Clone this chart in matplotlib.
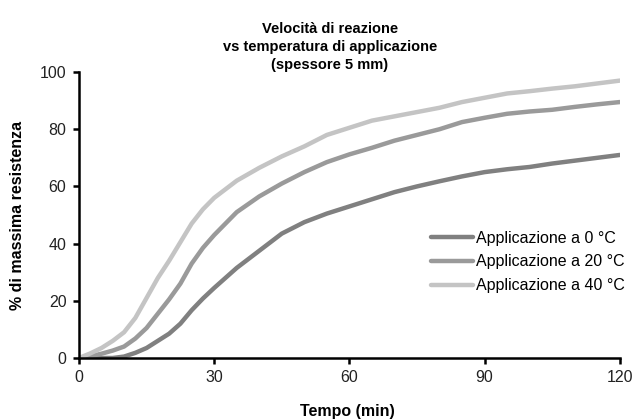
import matplotlib.pyplot as plt

plt.rcParams['font.family'] = ['Liberation Sans', 'DejaVu Sans']

tempo = [0, 2.5, 5, 7.5, 10, 12.5, 15, 17.5, 20, 22.5, 25, 27.5, 30, 35, 40, 45, 50, 55, 60,
         65, 70, 75, 80, 85, 90, 95, 100, 105, 110, 115, 120]

app_0 = [0, 0, 0, 0, 0.5, 1.8, 3.5, 6, 8.5, 12, 16.7, 20.8, 24.5, 31.5, 37.5, 43.5, 47.5, 50.5, 53,
         55.5, 58, 60, 61.8, 63.5, 65, 66, 66.8, 68, 69, 70, 71]
app_20 = [0, 0.6, 1.5, 2.6, 4, 6.8, 10.5, 15.5, 20.5, 26, 33, 38.5, 43, 51, 56.5, 61, 65, 68.5, 71.2,
          73.5, 76, 78, 80, 82.5, 84, 85.4, 86.2, 86.8, 87.8, 88.7, 89.5]
app_40 = [0, 1.6, 3.5, 6, 9, 14, 21, 28, 34, 40.5, 47, 52, 56, 62, 66.5, 70.5, 74, 78, 80.5,
          83, 84.5, 86, 87.5, 89.5, 91, 92.5, 93.3, 94.2, 95, 96, 97]

labels = ['Applicazione a 0 °C', 'Applicazione a 20 °C', 'Applicazione a 40 °C']
colors = ['#808080', '#9a9a9a', '#c4c4c4']

fig = plt.figure(figsize=(6.37, 4.19), dpi=100)
ax = fig.add_axes([0.124, 0.1456, 0.849, 0.6825])

for ys, lab, c in zip([app_0, app_20, app_40], labels, colors):
    ax.plot(tempo, ys, color=c, lw=3.2, label=lab, solid_capstyle='round',
            solid_joinstyle='round')

ax.set_xlim(0, 120)
ax.set_ylim(0, 100)
ax.set_xticks([0, 30, 60, 90, 120])
ax.set_yticks([0, 20, 40, 60, 80, 100])
for s in ['top', 'right']:
    ax.spines[s].set_visible(False)
for s in ['left', 'bottom']:
    ax.spines[s].set_linewidth(1.8)
ax.tick_params(direction='out', length=4, width=1.8, labelsize=11.5,
               labelcolor='#222222', pad=5)

fig.text(0.518, 0.888, 'Velocità di reazione\nvs temperatura di applicazione\n(spessore 5 mm)',
         ha='center', va='center', fontsize=10.5, fontweight='bold',
         linespacing=1.4)
fig.text(0.546, 0.018, 'Tempo (min)', ha='center', va='center',
         fontsize=11.5, fontweight='bold')
fig.text(0.027, 0.487, '% di massima resistenza', ha='center', va='center',
         rotation=90, fontsize=11.5, fontweight='bold')

ax.legend(loc='center left', bbox_to_anchor=(0.654, 0.375),
          bbox_transform=fig.transFigure, frameon=False, fontsize=11.5,
          handlelength=2.6, handletextpad=0.25, labelspacing=0.55)

fig.savefig('out.png', dpi=100)
